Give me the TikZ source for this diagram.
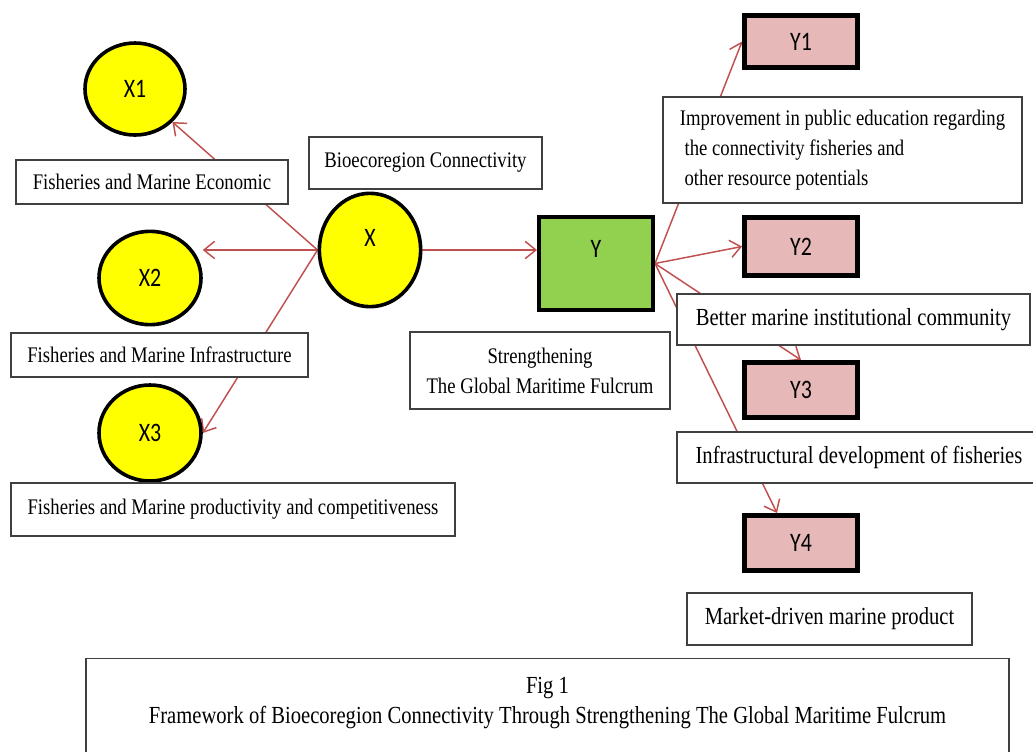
\documentclass[tikz,border=0pt]{standalone}
\usepackage{fontspec}
\setmainfont[FakeStretch=0.84]{Liberation Serif}
\newfontfamily\lblfont[FakeStretch=0.82]{Carlito}
\usetikzlibrary{arrows.meta,calc,shapes.geometric}
\definecolor{conncol}{RGB}{192,80,77}
\definecolor{ypink}{RGB}{230,185,184}
\definecolor{ygreen}{RGB}{146,208,80}
\definecolor{xyellow}{RGB}{255,255,0}
\pgfdeclarelayer{bg}
\pgfsetlayers{bg,main}
\begin{document}
\begin{tikzpicture}[x=0.75pt,y=-0.75pt,
  txtbox/.style={draw=black!75,line width=1.1pt,fill=white,inner sep=0pt,align=center,
    font=\fontsize{16.7}{22.5}\selectfont},
  bigtxt/.style={txtbox,font=\fontsize{18.4}{22.5}\selectfont},
  lbl/.style={font=\lblfont\fontsize{20}{22}\selectfont},
  xell/.style={ellipse,draw=black,line width=2.7pt,fill=xyellow,inner sep=0pt,lbl},
  ybox/.style={rectangle,draw=black,line width=3.7pt,fill=ypink,inner sep=0pt,
    minimum width=84.75pt,lbl},
  gbox/.style={rectangle,draw=black,line width=3pt,fill=ygreen,inner sep=0pt,lbl},
  conn/.style={draw=conncol,line width=1.1pt,
    -{Straight Barb[length=8pt,width=13pt,line width=1.1pt]}}]
\useasboundingbox (0,0) rectangle (1033,751);
\clip (0,0) rectangle (1033,751);

% independent variable side
\node[xell,minimum width=75pt,minimum height=69pt] (X1) at (135,89) {X1};
\node[xell,minimum width=76pt,minimum height=85pt,label={[lbl,yshift=9pt]center:X}] (X) at (370,250) {};
\node[xell,minimum width=76.5pt,minimum height=70pt] (X2) at (150,278) {X2};
\node[xell,minimum width=76.5pt,minimum height=72pt] (X3) at (150,433) {X3};

\node[txtbox,minimum width=204pt,minimum height=33pt] (econ) at (152,182) {Fisheries and Marine Economic};
\node[txtbox,minimum width=174.75pt,minimum height=39pt] (bio) at (425.5,163) {Bioecoregion Connectivity};
\node[txtbox,minimum width=222.75pt,minimum height=33pt] (infra) at (159.5,355) {Fisheries and Marine Infrastructure};
\node[txtbox,minimum width=333pt,minimum height=39.75pt] (prod) at (233,509.5) {Fisheries and Marine productivity and competitiveness};

% dependent variable side
\node[gbox,minimum width=85.5pt,minimum height=69.75pt,label={[lbl,yshift=11pt]center:Y}] (Y) at (596,263.5) {};
\node[txtbox,minimum width=195pt,minimum height=57.75pt] (str) at (540,370.5) {Strengthening\\The Global Maritime Fulcrum};

\node[ybox,minimum height=39pt] (Y1) at (801,41.5) {Y1};
\node[ybox,minimum height=43.5pt] (Y2) at (801,246.5) {Y2};
\node[ybox,minimum height=41.25pt] (Y3) at (801,390) {Y3};
\node[ybox,minimum height=41.25pt] (Y4) at (801,543) {Y4};

\node[txtbox,align=left,minimum width=269.25pt,minimum height=79.5pt] (impr) at (842.5,150)
  {Improvement in public education regarding\\\hspace*{3.5pt}the connectivity fisheries and\\\hspace*{3.5pt}other resource potentials};
\node[bigtxt,minimum width=264.75pt,minimum height=38.25pt] (better) at (853.5,319.5) {Better marine institutional community};
\node[bigtxt,minimum width=273pt,minimum height=38.25pt] (infdev) at (859,457.5) {Infrastructural development of fisheries};
\node[bigtxt,minimum width=213.75pt,minimum height=39pt] (market) at (829.5,619) {Market-driven marine product};

% caption
\node[bigtxt,anchor=north,minimum width=692pt,inner ysep=14pt] (cap) at (547.5,658)
  {Fig 1\\Framework of Bioecoregion Connectivity Through Strengthening The Global Maritime Fulcrum\\\mbox{}};

% connectors
\begin{pgfonlayer}{bg}
\draw[conn] (X.west) -- (X1);
\draw[conn] (X.west) -- (X.west -| X2.east);
\draw[conn] (X.west) -- (X3.east);
\draw[conn] (X.east) -- (X.east -| Y.west);
\draw[conn] (Y.east) -- (Y1.west);
\draw[conn] (Y.east) -- (Y2.west);
\draw[conn] (Y.east) -- (Y3.north);
\draw[conn] (Y.east) -- ($(Y4.north)+(-24,0)$);
\end{pgfonlayer}
\end{tikzpicture}
\end{document}
